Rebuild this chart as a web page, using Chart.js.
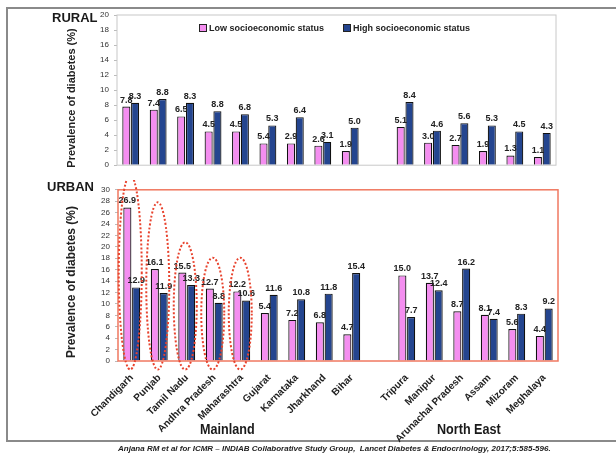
<!DOCTYPE html>
<html>
<head>
<meta charset="utf-8">
<script src="https://cdn.jsdelivr.net/npm/chart.js@4.4.1/dist/chart.umd.min.js"></script>
<style>
  html, body { margin: 0; padding: 0; background: #fff; }
  body { width: 616px; height: 454px; position: relative; overflow: hidden; font-family: "Liberation Sans", Arial, sans-serif; }
  .frame { position: absolute; left: 6px; top: 7px; width: 640px; height: 435px; border: 2px solid #8a8a8a; border-right: none; box-sizing: border-box; }
  canvas { position: absolute; left: 0; }
  .txt { position: absolute; white-space: nowrap; color: #1a1a1a; font-weight: bold; }
  .ytitle { position: absolute; font-weight: bold; font-size: 11px; color: #222; white-space: nowrap; transform: translate(-50%, -50%) rotate(-90deg); }
  .leg { position: absolute; font-size: 9px; font-weight: bold; color: #222; white-space: nowrap; }
  .leg i { display: inline-block; width: 6px; height: 6px; border: 1px solid #222; margin-right: 2px; vertical-align: -1px; }
</style>
</head>
<body>
<div class="frame"></div>
<canvas id="rural" width="616" height="175" style="top:0"></canvas>
<canvas id="urban" width="616" height="274" style="top:180px"></canvas>

<div class="txt" style="left:52px; top:10px; font-size:13px;">RURAL</div>
<div class="txt" style="left:47px; top:179px; font-size:13px;">URBAN</div>
<div class="ytitle" style="left:71px; top:98px;">Prevalence of diabetes (%)</div>
<div class="ytitle" style="left:71px; top:282px; font-size:12px;">Prevalence of diabetes (%)</div>
<div class="leg" style="left:199px; top:23px;"><i style="background:#f48ef0"></i>Low socioeconomic status</div>
<div class="leg" style="left:343px; top:23px;"><i style="background:#24458f"></i>High socioeconomic status</div>
<div class="txt" style="left:200px; top:421px; font-size:14px; transform:scaleX(0.9); transform-origin:left;">Mainland</div>
<div class="txt" style="left:437px; top:421px; font-size:14px; transform:scaleX(0.9); transform-origin:left;">North East</div>
<div class="txt" style="left:118px; top:444px; font-size:8px; font-style:italic; color:#222;">Anjana RM et al for ICMR – INDIAB Collaborative Study Group,&nbsp; Lancet Diabetes &amp; Endocrinology, 2017;5:585-596.</div>

<script>
// categories (empty slot separates Mainland and North East)
const categories = ['Chandigarh', 'Punjab', 'Tamil Nadu', 'Andhra Pradesh', 'Maharashtra', 'Gujarat',
  'Karnataka', 'Jharkhand', 'Bihar', '', 'Tripura', 'Manipur', 'Arunachal Pradesh', 'Assam', 'Mizoram', 'Meghalaya'];

// rural bars (heights as drawn) and printed labels
const ruralLow = [7.8, 7.4, 6.5, 4.5, 4.5, 2.9, 2.9, 2.6, 1.9, null, 5.1, 3.0, 2.7, 1.9, 1.3, 1.1];
const ruralHigh = [8.3, 8.8, 8.3, 7.2, 6.8, 5.3, 6.4, 3.1, 5.0, null, 8.4, 4.6, 5.6, 5.3, 4.5, 4.3];
const ruralLowText = ['7.8', '7.4', '6.5', '4.5', '4.5', '5.4', '2.9', '2.6', '1.9', '', '5.1', '3.0', '2.7', '1.9', '1.3', '1.1'];
const ruralHighText = ['8.3', '8.8', '8.3', '8.8', '6.8', '5.3', '6.4', '3.1', '5.0', '', '8.4', '4.6', '5.6', '5.3', '4.5', '4.3'];

// urban bars and printed labels
const urbanLow = [26.9, 16.1, 15.5, 12.7, 12.2, 8.4, 7.2, 6.8, 4.7, null, 15.0, 13.7, 8.7, 8.1, 5.6, 4.4];
const urbanHigh = [12.9, 11.9, 13.3, 10.2, 10.6, 11.6, 10.8, 11.8, 15.4, null, 7.7, 12.4, 16.2, 7.4, 8.3, 9.2];
const urbanLowText = ['26.9', '16.1', '15.5', '12.7', '12.2', '5.4', '7.2', '6.8', '4.7', '', '15.0', '13.7', '8.7', '8.1', '5.6', '4.4'];
const urbanHighText = ['12.9', '11.9', '13.3', '8.8', '10.6', '11.6', '10.8', '11.8', '15.4', '', '7.7', '12.4', '16.2', '7.4', '8.3', '9.2'];

// dotted ellipses on the first five urban states (value range they span)
const highlightTop = [32.6, 27.8, 20.8, 18.1, 18.1];
const highlightBottom = -1.5;

const pink = '#f48ef0';
const navy = '#24458f';
const labelFont = 'bold 9px "Liberation Sans Narrow", "Arial Narrow", "Liberation Sans", sans-serif';

function barLabels(lowText, highText) {
  return {
    id: 'barLabels',
    afterDatasetsDraw(chart) {
      const ctx = chart.ctx;
      ctx.save();
      ctx.font = labelFont;
      ctx.fillStyle = '#222';
      ctx.textAlign = 'center';
      ctx.textBaseline = 'bottom';
      [lowText, highText].forEach((texts, d) => {
        chart.getDatasetMeta(d).data.forEach((bar, i) => {
          if (!texts[i]) return;
          ctx.fillText(texts[i], bar.x, bar.y - 2);
        });
      });
      ctx.restore();
    }
  };
}

function boxPlugin(color, width) {
  return {
    id: 'box',
    afterDraw(chart) {
      const a = chart.chartArea;
      const ctx = chart.ctx;
      ctx.save();
      ctx.strokeStyle = color;
      ctx.lineWidth = width;
      ctx.strokeRect(a.left, a.top, a.right - a.left, a.bottom - a.top);
      ctx.restore();
    }
  };
}

const ellipsePlugin = {
  id: 'ellipses',
  afterDraw(chart) {
    const x = chart.scales.x, y = chart.scales.y;
    const ctx = chart.ctx;
    ctx.save();
    ctx.strokeStyle = '#e8432e';
    ctx.lineWidth = 2;
    ctx.setLineDash([2, 2]);
    highlightTop.forEach((top, i) => {
      const cx = x.getPixelForValue(i) - 1.5;
      const yt = y.getPixelForValue(top);
      const yb = y.getPixelForValue(highlightBottom);
      ctx.beginPath();
      ctx.ellipse(cx, (yt + yb) / 2, 11.5, (yb - yt) / 2, 0, 0, Math.PI * 2);
      ctx.stroke();
    });
    ctx.restore();
  }
};

function makeChart(id, low, high, yMax, opts) {
  return new Chart(document.getElementById(id), {
    type: 'bar',
    data: {
      labels: categories,
      datasets: [
        { label: 'Low socioeconomic status', data: low, backgroundColor: pink, borderColor: '#111', borderWidth: 1.2 },
        { label: 'High socioeconomic status', data: high, backgroundColor: navy, borderColor: '#111', borderWidth: 1.2 }
      ]
    },
    options: {
      responsive: false,
      animation: false,
      datasets: { bar: { categoryPercentage: 0.64, barPercentage: 0.92 } },
      layout: { padding: opts.padding },
      plugins: { legend: { display: false }, tooltip: { enabled: false } },
      scales: {
        x: opts.x,
        y: {
          min: 0, max: yMax,
          afterFit(axis) { axis.width = opts.yWidth; },
          border: { display: false },
          grid: { drawOnChartArea: false, tickLength: 3, color: '#bbb' },
          ticks: { stepSize: 2, autoSkip: false, padding: 5, color: '#333',
                   font: { size: 8, family: '"Liberation Sans Narrow", "Liberation Sans", sans-serif' } }
        }
      }
    },
    plugins: opts.plugins
  });
}

makeChart('rural', ruralLow, ruralHigh, 20, {
  padding: { left: 0, right: 60, top: 15, bottom: 7 },
  yWidth: 117,
  x: { display: false },
  plugins: [barLabels(ruralLowText, ruralHighText), boxPlugin('#c8c8c8', 1)]
});

makeChart('urban', urbanLow, urbanHigh, 30, {
  padding: { left: 0, right: 58, top: 7, bottom: 0 },
  yWidth: 118,
  x: {
    afterFit(axis) { axis.height = 93; },
    border: { display: false },
    grid: { display: false },
    ticks: { autoSkip: false, minRotation: 45, maxRotation: 45, padding: 3, color: '#222',
             font: { size: 10, weight: 'bold', family: '"Liberation Sans", Arial, sans-serif' } }
  },
  plugins: [barLabels(urbanLowText, urbanHighText), boxPlugin('#f07860', 1.5), ellipsePlugin]
});
</script>
</body>
</html>
